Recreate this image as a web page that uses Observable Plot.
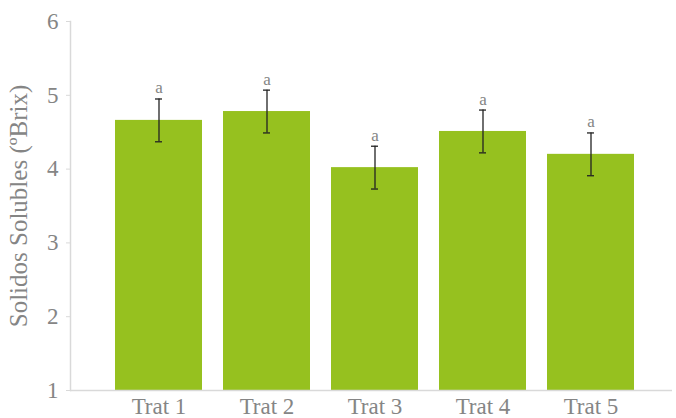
<!DOCTYPE html>
<html>
<head>
<meta charset="utf-8">
<script src="https://cdn.jsdelivr.net/npm/d3@7"></script>
<script src="https://cdn.jsdelivr.net/npm/@observablehq/plot@0.6"></script>
<style>
  html, body { margin: 0; padding: 0; background: #fff; }
  #chart svg { display: block; }
</style>
</head>
<body>
<div id="chart"></div>
<script>
const categories = ["Trat 1", "Trat 2", "Trat 3", "Trat 4", "Trat 5"];
const values = [4.66, 4.78, 4.02, 4.51, 4.20];
const errors = [0.29, 0.29, 0.29, 0.29, 0.29];
const letters = ["a", "a", "a", "a", "a"];
const yTicks = [1, 2, 3, 4, 5, 6];

const data = categories.map((c, i) => ({cat: c, v: values[i], e: errors[i], l: letters[i]}));

const font = "'Liberation Serif', 'DejaVu Serif', serif";
const gray = "#858585";
const axisGray = "#d9d9d9";

const chart = Plot.plot({
  width: 676,
  height: 418,
  marginTop: 21,
  marginBottom: 28,
  marginLeft: 70,
  marginRight: 4,
  style: "font-family: 'Liberation Serif', serif; font-size: 20px; background: #fff;",
  x: {domain: categories, insetLeft: 34, insetRight: 26, paddingInner: 0.19, paddingOuter: 0.095, label: null},
  y: {domain: [1, 6], label: null},
  marks: [
    Plot.barY(data, {x: "cat", y1: 1, y2: "v", fill: "#96c11f"}),
    Plot.ruleY([1], {stroke: axisGray, strokeWidth: 1.5}),
    Plot.frame({anchor: "left", stroke: axisGray, strokeWidth: 1.5}),
    Plot.ruleX(data, {x: "cat", y1: d => d.v - d.e, y2: d => d.v + d.e, stroke: "#222", strokeWidth: 1.3}),
    Plot.tickY(data, {x: "cat", y: d => d.v + d.e, stroke: "#222", strokeWidth: 1.3, inset: 40}),
    Plot.tickY(data, {x: "cat", y: d => d.v - d.e, stroke: "#222", strokeWidth: 1.3, inset: 40}),
    Plot.text(data, {x: "cat", y: d => d.v + d.e, text: "l", dy: -11, fill: gray, fontSize: 17, fontFamily: font}),
    Plot.axisY(yTicks, {anchor: "left", tickSize: 4, tickPadding: 8, tickFormat: d3.format("d"), stroke: axisGray, fill: gray, fontSize: 23, fontFamily: font, label: null}),
    Plot.axisX({anchor: "bottom", tickSize: 0, tickPadding: 7, fill: gray, fontSize: 23, fontFamily: font, label: null}),
    Plot.text(["Solidos Solubles (ºBrix)"], {frameAnchor: "left", textAnchor: "middle", dx: -52, rotate: -90, fill: gray, fontSize: 25, fontFamily: font})
  ]
});
document.getElementById("chart").appendChild(chart);
</script>
</body>
</html>
